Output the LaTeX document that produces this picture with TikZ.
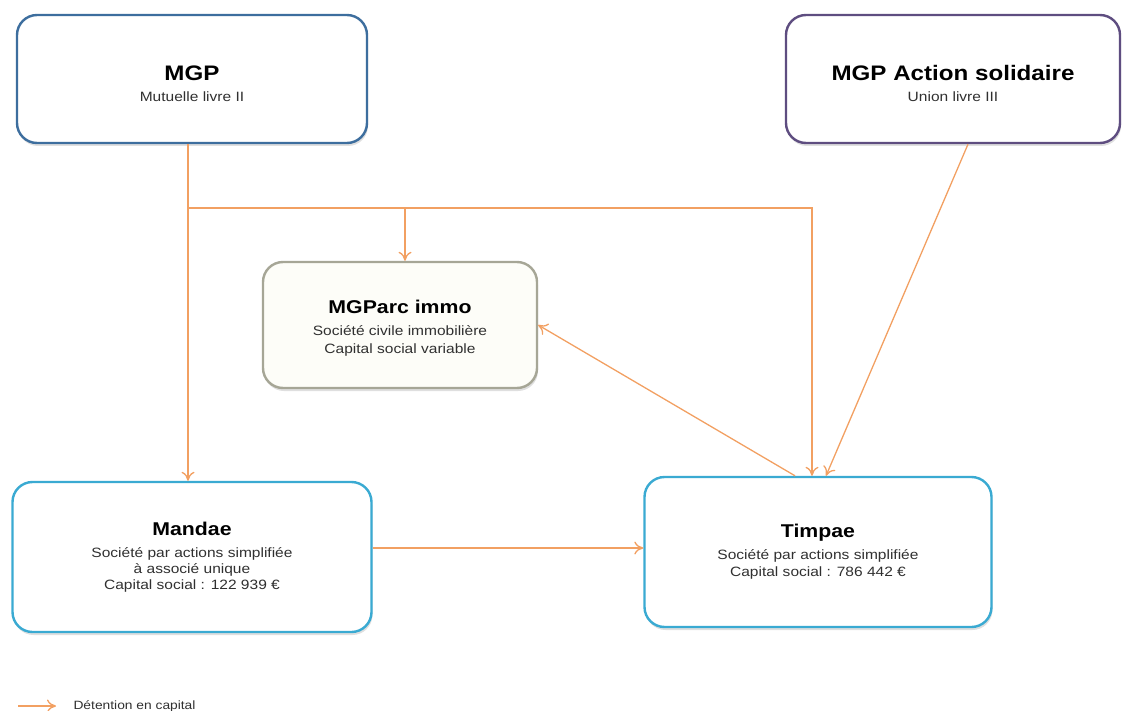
\documentclass[tikz,border=0pt]{standalone}
\usepackage{fontspec}
\setmainfont[FakeStretch=1.15]{Liberation Sans}
\usetikzlibrary{shadows,arrows.meta}
\definecolor{cmgp}{HTML}{3D6E9E}
\definecolor{cas}{HTML}{5E4D80}
\definecolor{cparc}{HTML}{A6A696}
\definecolor{cparcfill}{HTML}{FDFDF8}
\definecolor{csas}{HTML}{3AAAD2}
\definecolor{carr}{HTML}{F2A062}
\definecolor{ctxt}{HTML}{303030}
\tikzset{
  entity/.style={draw, line width=2.4pt, rounded corners=20pt, fill=white, align=center,
    inner sep=0pt, text=ctxt, font=\fontsize{13.5}{16}\selectfont,
    drop shadow={shadow xshift=1pt, shadow yshift=-3pt, opacity=0.25}},
  arr/.style={draw=carr, line width=1.3pt, -{To[length=9pt,width=13pt]}},
}
\newcommand{\ttltxt}[2]{{\color{black}\fontsize{#1}{#1}\selectfont\bfseries #2}}
\begin{document}
\begin{tikzpicture}[x=1pt,y=-1pt]
\useasboundingbox (0,0) rectangle (1123,711);
\node[entity, draw=cmgp, minimum width=350pt, minimum height=128pt] (MGP) at (192,79)
  {\rule{0pt}{24pt}\ttltxt{21}{MGP}\\[5pt]Mutuelle livre II};
\node[entity, draw=cas, minimum width=334pt, minimum height=128pt] (MGPAS) at (953,79)
  {\rule{0pt}{24pt}\ttltxt{21}{MGP Action solidaire}\\[5pt]Union livre III};
\node[entity, draw=cparc, fill=cparcfill, minimum width=274pt, minimum height=126pt] (MGParc) at (400,325)
  {\rule{0pt}{19pt}\ttltxt{18.5}{MGParc immo}\\[6pt]Société civile immobilière\\[2pt]Capital social variable};
\node[entity, draw=csas, minimum width=359pt, minimum height=150pt] (Mandae) at (192,557)
  {\ttltxt{18.5}{Mandae}\\[6pt]Société par actions simplifiée\\à associé unique\\Capital social : 122 939 €};
\node[entity, draw=csas, minimum width=347pt, minimum height=150pt] (Timpae) at (818,552)
  {\ttltxt{18.5}{Timpae}\\[6pt]Société par actions simplifiée\\[1pt]Capital social : 786 442 €};
\coordinate (j1) at (188,208);
\coordinate (j2) at (812,208);
\coordinate (j3) at (405,208);
\draw[arr] (MGP.south -| j1) -- (j1) -- (Mandae.north -| j1);
\draw[arr] (j1) -- (j2) -- (Timpae.north -| j2);
\draw[arr] (j3) -- (MGParc.north -| j3);
\draw[arr] ([xshift=15pt]MGPAS.south) -- ([xshift=8pt]Timpae.north);
\draw[arr] ([xshift=-23pt]Timpae.north) -- (MGParc.east);
\draw[arr] ([yshift=9pt]Mandae.east) -- ([yshift=9pt]Mandae.east -| Timpae.west);
\coordinate (l1) at (18,706);
\coordinate (l2) at (56,706);
\node[anchor=west, text=ctxt, font=\fontsize{12}{13}\selectfont] (leg) at (70,706) {Détention en capital};
\draw[arr] (l1) -- (l2);
\end{tikzpicture}
\end{document}
